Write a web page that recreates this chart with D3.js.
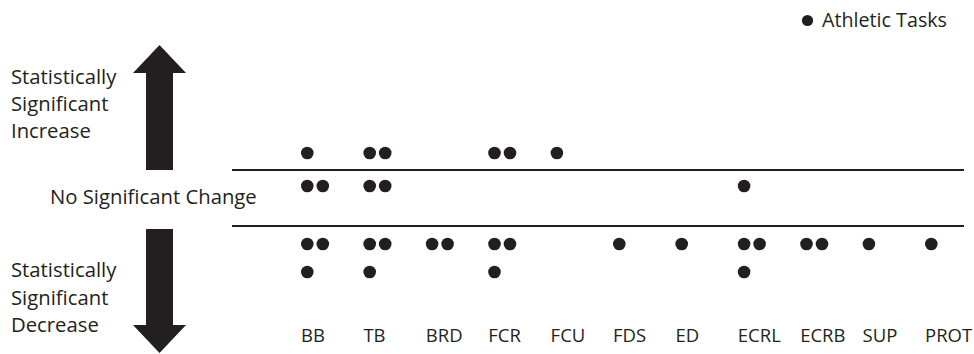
<!DOCTYPE html>
<html>
<head>
<meta charset="utf-8">
<script src="https://cdn.jsdelivr.net/npm/d3@7"></script>
<style>
  body { margin: 0; background: #fff; }
  text { font-family: "Open Sans", sans-serif; fill: #231f20; }
</style>
</head>
<body>
<script>
// muscles along the bottom
var categories = ["BB", "TB", "BRD", "FCR", "FCU", "FDS", "ED", "ECRL", "ECRB", "SUP", "PROT"];

// number of athletic tasks per muscle in each outcome band
var increaseCounts = [1, 2, 0, 2, 1, 0, 0, 0, 0, 0, 0];
var noChangeCounts = [2, 2, 0, 0, 0, 0, 0, 1, 0, 0, 0];
var decreaseCounts = [3, 3, 2, 3, 0, 1, 1, 3, 2, 1, 1];

var bandLabels = {
  increase: ["Statistically", "Significant", "Increase"],
  none: ["No Significant Change"],
  decrease: ["Statistically", "Significant", "Decrease"]
};
var legendLabel = "Athletic Tasks";

var width = 974, height = 354;
var ink = "#231f20";
var r = 6.3, dotStep = 15.5, rowStep = 28;

var svg = d3.select("body").append("svg")
    .attr("width", width)
    .attr("height", height);

// x positions of the muscle columns
var x = d3.scalePoint()
    .domain(categories)
    .range([301, 925]);

// first dot row of each band
var bandY = d3.scaleOrdinal()
    .domain(["increase", "none", "decrease"])
    .range([153, 186, 244]);

// build dot list: two dots per row inside each band
var dots = [];
[["increase", increaseCounts], ["none", noChangeCounts], ["decrease", decreaseCounts]]
  .forEach(function(b) {
    b[1].forEach(function(n, ci) {
      for (var i = 0; i < n; i++) {
        dots.push({band: b[0], cat: categories[ci], col: i % 2, row: Math.floor(i / 2)});
      }
    });
  });

// separator lines
var lineX = [232, 964];
[170, 226].forEach(function(yy) {
  svg.append("line")
      .attr("x1", lineX[0]).attr("x2", lineX[1])
      .attr("y1", yy).attr("y2", yy)
      .attr("stroke", ink)
      .attr("stroke-width", 2);
});

// the dots
svg.selectAll(".dot")
    .data(dots)
  .enter().append("circle")
    .attr("class", "dot")
    .attr("cx", function(d) { return x(d.cat) + r + d.col * dotStep; })
    .attr("cy", function(d) { return bandY(d.band) + d.row * rowStep; })
    .attr("r", r)
    .attr("fill", ink);

// category labels
svg.selectAll(".cat")
    .data(categories)
  .enter().append("text")
    .attr("class", "cat")
    .attr("x", function(d) { return x(d); })
    .attr("y", 342)
    .style("font-size", "18.5px")
    .text(function(d) { return d; });

// arrows
var ax = 159.5, shaftW = 27, headW = 53, headH = 28;
var upArrow = [
  [ax, 45], [ax + headW / 2, 45 + headH], [ax + shaftW / 2, 45 + headH],
  [ax + shaftW / 2, 170], [ax - shaftW / 2, 170], [ax - shaftW / 2, 45 + headH],
  [ax - headW / 2, 45 + headH]
];
var downArrow = [
  [ax, 353], [ax + headW / 2, 353 - headH], [ax + shaftW / 2, 353 - headH],
  [ax + shaftW / 2, 229], [ax - shaftW / 2, 229], [ax - shaftW / 2, 353 - headH],
  [ax - headW / 2, 353 - headH]
];
[upArrow, downArrow].forEach(function(p) {
  svg.append("path")
      .attr("d", d3.line()(p) + "Z")
      .attr("fill", ink);
});

// band labels on the left
function multiline(lines, x0, y0, dy) {
  var t = svg.append("text")
      .attr("x", x0).attr("y", y0)
      .style("font-size", "20.3px");
  lines.forEach(function(l, i) {
    t.append("tspan")
        .attr("x", x0)
        .attr("y", y0 + i * dy)
        .text(l);
  });
}
multiline(bandLabels.increase, 11, 84, 27);
multiline(bandLabels.none, 50, 204, 27);
multiline(bandLabels.decrease, 11, 277, 27.5);

// legend
svg.append("circle")
    .attr("cx", 807.5).attr("cy", 20.5)
    .attr("r", 5.6)
    .attr("fill", ink);
svg.append("text")
    .attr("x", 822).attr("y", 26.5)
    .style("font-size", "19.7px")
    .text(legendLabel);
</script>
</body>
</html>
